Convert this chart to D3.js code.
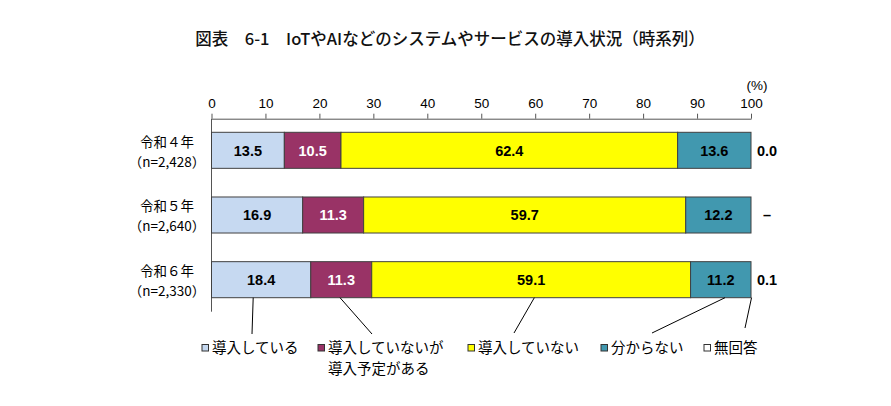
<!DOCTYPE html>
<html>
<head>
<meta charset="utf-8">
<script src="https://cdn.jsdelivr.net/npm/d3@7"></script>
<style>
  body { margin: 0; background: #fff; }
  svg { display: block; }
  .jp { font-family: "Noto Sans CJK JP", sans-serif; }
  .num { font-family: "Liberation Sans", Arial, sans-serif; }
</style>
</head>
<body>
<div id="chart"></div>
<script>
// values (percent)
const years = ["令和４年", "令和５年", "令和６年"];
const samples = ["（n=2,428）", "（n=2,640）", "（n=2,330）"];
const seriesNames = ["導入している", "導入していないが\n導入予定がある", "導入していない", "分からない", "無回答"];
const adopted = [13.5, 16.9, 18.4];
const planned = [10.5, 11.3, 11.3];
const notAdopted = [62.4, 59.7, 59.1];
const unknown = [13.6, 12.2, 11.2];
const noAnswer = [0.0, null, 0.1];
const ticks = [0, 10, 20, 30, 40, 50, 60, 70, 80, 90, 100];

const colors = ["#c6d9f1", "#993366", "#ffff00", "#4198af", "#ffffff"];
const labelColors = ["#000", "#fff", "#000", "#000", "#000"];

const W = 891, H = 406;
const svg = d3.select("#chart").append("svg")
    .attr("width", W)
    .attr("height", H);

// title
svg.append("text")
    .attr("class", "jp")
    .attr("x", 450)
    .attr("y", 45)
    .attr("text-anchor", "middle")
    .attr("font-size", 16.5)
    .attr("font-weight", 500)
    .attr("fill", "#111")
    .text("図表　6-1　IoTやAIなどのシステムやサービスの導入状況（時系列）");

const x = d3.scaleLinear().domain([0, 100]).range([211.5, 751]);
const y = d3.scaleBand().domain(years).range([132.3, 297.7]).paddingInner(0.443).paddingOuter(0);
const axisY = 118.7;

// top axis
const xAxis = svg.append("g")
    .attr("transform", "translate(0," + axisY + ")")
    .call(d3.axisTop(x).tickValues(ticks).tickSize(5).tickSizeOuter(0).tickFormat(d => d));
xAxis.select(".domain").attr("stroke", "#555");
xAxis.selectAll(".tick line").attr("stroke", "#555");
xAxis.selectAll(".tick text")
    .attr("class", "num")
    .attr("font-size", 13.5)
    .attr("fill", "#000")
    .attr("y", -11);

svg.append("text")
    .attr("class", "num")
    .attr("x", 757)
    .attr("y", 90)
    .attr("text-anchor", "middle")
    .attr("font-size", 13.5)
    .text("(%)");

// left axis line
svg.append("line")
    .attr("x1", x(0)).attr("x2", x(0))
    .attr("y1", axisY).attr("y2", 311.7)
    .attr("stroke", "#555");

// stack the rows
const rows = years.map((yr, i) => {
    const vals = [adopted[i], planned[i], notAdopted[i], unknown[i], noAnswer[i]];
    let acc = 0;
    return vals.map((v, k) => {
        const seg = { year: yr, k: k, v: v, x0: acc, x1: acc + (v || 0) };
        acc += (v || 0);
        return seg;
    });
});

const segs = rows.flat().filter(d => d.v);

svg.append("g").selectAll("rect")
    .data(segs)
    .join("rect")
    .attr("x", d => x(d.x0))
    .attr("y", d => y(d.year))
    .attr("width", d => Math.min(x(d.x1), x(100)) - x(d.x0))
    .attr("height", y.bandwidth())
    .attr("fill", d => colors[d.k])
    .attr("stroke", d => d.k === 4 ? "#000" : "#404040")
    .attr("stroke-width", d => d.k === 4 ? 1.5 : 1);

// labels inside bars
svg.append("g").selectAll("text")
    .data(segs.filter(d => d.k < 4))
    .join("text")
    .attr("class", "num")
    .attr("x", d => (x(d.x0) + x(Math.min(d.x1, 100))) / 2)
    .attr("y", d => y(d.year) + y.bandwidth() / 2)
    .attr("dy", "0.36em")
    .attr("text-anchor", "middle")
    .attr("font-size", 14.5)
    .attr("font-weight", "bold")
    .attr("fill", d => labelColors[d.k])
    .text(d => d.v.toFixed(1));

// no answer values on the right
svg.append("g").selectAll("text")
    .data(years)
    .join("text")
    .attr("class", "num")
    .attr("x", 767)
    .attr("y", d => y(d) + y.bandwidth() / 2)
    .attr("dy", "0.36em")
    .attr("text-anchor", "middle")
    .attr("font-size", 14.5)
    .attr("font-weight", "bold")
    .text((d, i) => noAnswer[i] === null ? "–" : noAnswer[i].toFixed(1));

// category labels
const cat = svg.append("g").selectAll("g")
    .data(years)
    .join("g")
    .attr("transform", d => "translate(167," + (y(d) + y.bandwidth() / 2) + ")");
cat.append("text")
    .attr("class", "jp")
    .attr("y", -8.5)
    .attr("dy", "0.35em")
    .attr("text-anchor", "middle")
    .attr("font-size", 13.5)
    .text(d => d);
cat.append("text")
    .attr("class", "jp")
    .attr("y", 11.5)
    .attr("dy", "0.35em")
    .attr("text-anchor", "middle")
    .attr("font-size", 13.5)
    .text((d, i) => samples[i]);

// legend with leader lines from the last bar
const legX = [202, 318, 468, 601, 704];
const lineFrac = [0.42, 0.48, 0.51, 0.57, 1];
const lineEnd = [[252, 334], [372, 334], [514, 333], [652, 333], [745, 328]];
const last = rows[rows.length - 1];
const barBottom = y(years[years.length - 1]) + y.bandwidth();

svg.append("g").selectAll("line")
    .data(last)
    .join("line")
    .attr("x1", (d, i) => x(d.x0 + (d.x1 - d.x0) * lineFrac[i]))
    .attr("y1", barBottom)
    .attr("x2", (d, i) => lineEnd[i][0])
    .attr("y2", (d, i) => lineEnd[i][1])
    .attr("stroke", "#000")
    .attr("stroke-width", 1);

const leg = svg.append("g").selectAll("g")
    .data(seriesNames)
    .join("g")
    .attr("transform", (d, i) => "translate(" + legX[i] + ",348)");
leg.append("rect")
    .attr("x", 0).attr("y", -3.5)
    .attr("width", 6.5).attr("height", 6.5)
    .attr("fill", (d, i) => colors[i])
    .attr("stroke", "#333")
    .attr("stroke-width", 1);
leg.each(function(d) {
    const lines = d.split("\n");
    d3.select(this).selectAll("text")
        .data(lines)
        .join("text")
        .attr("class", "jp")
        .attr("x", 10)
        .attr("y", (t, j) => j * 21)
        .attr("dy", "0.35em")
        .attr("font-size", 14.5)
        .text(t => t);
});
</script>
</body>
</html>
